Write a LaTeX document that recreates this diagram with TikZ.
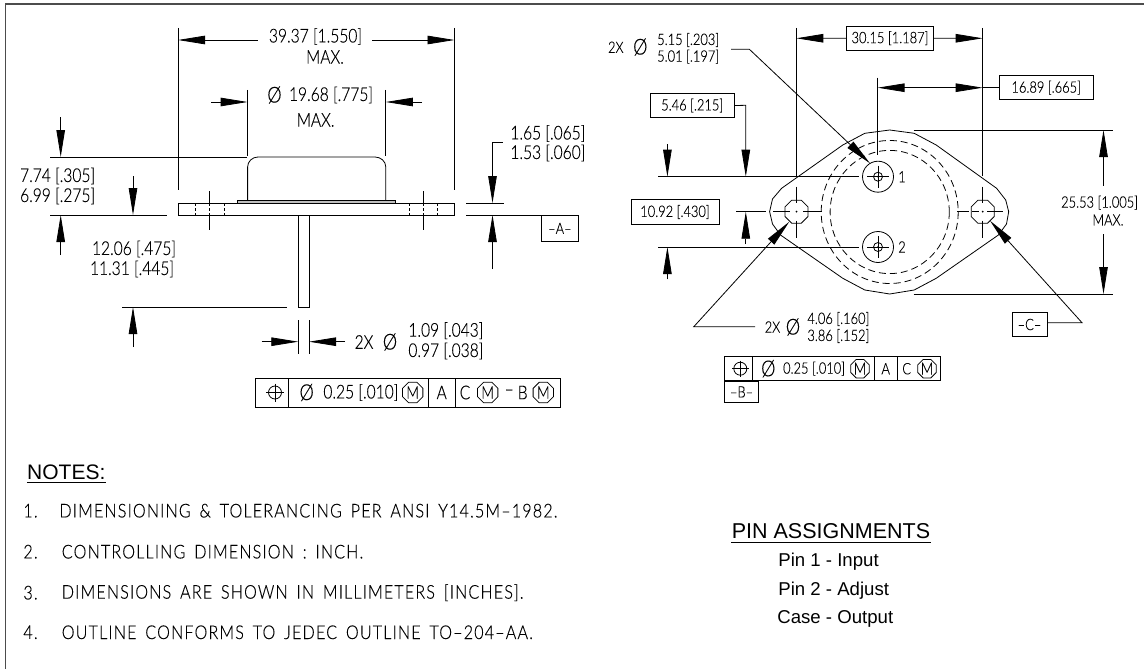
\documentclass[tikz,border=0pt]{standalone}
\usepackage{fontspec}
\setmainfont{Liberation Sans}
\newfontfamily\cadfont{Lato Light}[FakeStretch=0.82,FakeBold=0.2]
\newfontfamily\notefont{Lato Light}[FakeStretch=0.85,FakeBold=0.2,LetterSpace=6,WordSpace=1.6]
\usetikzlibrary{arrows.meta,positioning,shapes.geometric}

\begin{document}
\begin{tikzpicture}
    [x=1pt,y=-1pt,line width=0.8pt,
    dimarrow/.style={-{Triangle[length=27pt,width=8.5pt]}},
    dimboth/.style={{Triangle[length=27pt,width=8.5pt]}-{Triangle[length=27pt,width=8.5pt]}},
    dimleft/.style={font=\cadfont\fontsize{19}{19}\selectfont,inner sep=0pt},
    dimright/.style={font=\cadfont\fontsize{15.7}{16}\selectfont,inner sep=0pt},
    notetext/.style={font=\notefont\fontsize{19}{19}\selectfont,inner sep=0pt,anchor=west},
    plain/.style={font=\fontsize{21}{22}\selectfont,inner sep=0pt},
    pinline/.style={font=\fontsize{18.6}{19}\selectfont,inner sep=0pt,anchor=west},
    dimbox/.style={dimright,draw,rectangle,minimum height=24.4pt},
    datum/.style={dimright,draw,rectangle,minimum height=24pt,minimum width=35pt},
    dashedline/.style={dash pattern=on 7pt off 4pt},
    octagon/.style={draw,regular polygon,regular polygon sides=8,inner sep=0pt},
    markm/.style={octagon,minimum size=22pt,font=\cadfont\fontsize{17}{17}\selectfont},
    roundhole/.style={draw,circle,inner sep=0pt,minimum size=31pt},
    possym/.style={draw,circle,inner sep=0pt,minimum size=13pt},
    diasign/.style={font=\cadfont\fontsize{22}{22}\selectfont}]
    \useasboundingbox (0,0) rectangle (1144,669);
    \draw[line width=1.2pt,black!70] (5.5,669) -- (5.5,4) -- (1144,4);

    % free ends of the connectors
    \foreach \name/\x/\y in {
        a/178/40, b/257.5/40, c/454.5/40, d/372/40,
        e/247.6/102, f/211/102, g/385.8/102, h/422/102,
        i/60.7/157, j/60.7/117, k/60.7/215, l/60.7/255,
        m/133/215, n/133/176, o/133/307, p/133/347,
        q/492.5/203, r/492.5/142, s/502.5/142, t/492.5/215, u/492.5/269,
        v/298.3/341.7, w/261.7/341.7, x/309/341.7, y/345/341.7,
        aa/796.3/38.3, ab/982.7/38.3, ac/877.6/87.7, ad/982.7/87.7,
        ae/745.8/176.7, af/745.8/105.3, ag/667.4/176.7, ah/667.4/144,
        ai/667.4/247, aj/667.4/279.3, ak/745.8/211.7, al/745.8/244,
        am/1103.5/130, an/1103.5/185.7, ao/1103.5/294, ap/1103.5/234.3,
        aq/870/163.3, ar/749.4/49.3, as/731/49.3,
        at/789.3/221.7, au/693.8/326.7, av/755/326.7,
        aw/990/220.7, ax/1082/322.7} {
        \coordinate (\name) at (\x,\y);
    }

    % side view
    \draw (178,203) rectangle (454.5,215);
    \draw[fill=black!25] (237.5,200.5) rectangle (395.6,203);
    \draw (247.6,200.5) -- (247.6,167) to[out=90,in=180] (258,157) -- (375,157)
        to[out=0,in=90] (385.8,167) -- (385.8,200.5);
    \draw (298.3,215) -- (298.3,307) -- (309,307) -- (309,215);
    \foreach \x in {195.7,224,409.5,437.8} {
        \draw[dash pattern=on 3pt off 2pt] (\x,203) -- (\x,215);
    }
    \foreach \x in {209.8,423.6} {
        \draw (\x,191) -- (\x,203);
        \draw[dash pattern=on 3pt off 2pt] (\x,203) -- (\x,215);
        \draw (\x,215) -- (\x,230);
    }
    \foreach \x in {178,454.5} {
        \draw (\x,28) -- (\x,190);
    }
    \foreach \x in {247.6,385.8} {
        \draw (\x,90) -- (\x,156);
    }
    \foreach \x in {298.3,309} {
        \draw (\x,320) -- (\x,353.5);
    }
    \draw (50,157) -- (247,157);
    \draw (50,215) -- (166.5,215);
    \draw (122,307) -- (287,307);
    \draw (466,203) -- (504,203);
    \draw (466,215) -- (578,215);
    \foreach \from/\to in {b/a,d/c,f/e,h/g,j/i,l/k,n/m,p/o,u/t,w/v,y/x} {
        \draw[dimarrow] (\from) -- (\to);
    }
    \draw[dimarrow] (s) -- (r) -- (q);

    \node[dimleft] (overall) at (315.5,36.5) {39.37 [1.550]};
    \node[dimleft] (overallmax) at (325,57) {MAX.};
    \node[dimleft,diasign] (domedia) at (274.5,95) {Ø};
    \node[dimleft] (dome) at (331,95) {19.68 [.775]};
    \node[dimleft] (domemax) at (315.6,120) {MAX.};
    \node[dimleft] (high) at (57.6,176) {7.74 [.305]};
    \node[dimleft] (low) at (57.6,196) {6.99 [.275]};
    \node[dimleft] (pinhigh) at (134,249) {12.06 [.475]};
    \node[dimleft] (pinlow) at (132,269) {11.31 [.445]};
    \node[dimleft] (thick) [anchor=west] at (510,133.5) {1.65 [.065]};
    \node[dimleft] (thin) [anchor=west] at (510,153) {1.53 [.060]};
    \node[datum,anchor=north west,minimum width=37pt,minimum height=26pt] (dtmA) at (541,215) {–A–};
    \node[dimleft] (pintwo) at (364,342) {2X};
    \node[dimleft,diasign] (pindia) at (390,342) {Ø};
    \node[dimleft,anchor=west] (pinmax) at (408,330.7) {1.09 [.043]};
    \node[dimleft,anchor=west] (pinmin) at (408,351) {0.97 [.038]};

    % frame under the side view
    \draw (255.7,378.3) rectangle (560,407.7);
    \foreach \x in {288.3,428.3,455} {
        \draw (\x,378.3) -- (\x,407.7);
    }
    \node[possym] (posleft) at (275,392.5) {};
    \draw (266,392.5) -- (284,392.5) (275,383.5) -- (275,401.5);
    \node[dimleft,diasign] (tolleft) at (306.7,392.5) {Ø};
    \node[dimleft,anchor=west] (valleft) at (323,392.5) {0.25 [.010]};
    \node[markm] (ma) at (412.7,392.5) {M};
    \node[dimleft] (refa) at (441.7,392.5) {A};
    \node[dimleft] (refc) at (465,392.5) {C};
    \node[markm] (mb) at (487.7,392.5) {M};
    \node[dimleft] (refdash) at (509.3,392.5) {–};
    \node[dimleft] (refb) at (522.7,392.5) {B};
    \node[markm] (mc) at (543.3,392.5) {M};

    % top view
    \draw (889.7,130) -- (914.2,133.3) -- (936.2,145) -- (996.6,188.3) -- (1005.7,200)
        -- (1008.7,211.7) -- (1006.5,224) -- (998.4,235) -- (936.2,278.3) -- (914.2,290)
        -- (889.7,294) -- (864.8,290) -- (842.8,278.3) -- (780.5,235) -- (772.5,224)
        -- (769.6,211.7) -- (772.5,199) -- (781.6,188.3) -- (842.8,145) -- (864.8,133.3)
        -- cycle;
    \draw[dashedline] (889.7,212) ellipse (68.5 and 71.5);
    \draw[dashedline] (889.7,212) ellipse (59.6 and 61.6);
    \foreach \name/\y/\num in {holeone/176.7/1,holetwo/247/2} {
        \node[roundhole] (\name) at (878,\y) {};
        \draw (878,\y) circle (4.5);
        \fill (878,\y) circle (1);
        \draw (867,\y) -- (889,\y) (878,\y-11) -- (878,\y+11);
        \node[dimright] (\name num) at (902,\y) {\num};
    }
    \foreach \name/\x in {holea/796.5,holec/982.7} {
        \node[octagon,minimum size=25pt] (\name) at (\x,211.7) {};
        \fill (\x,211.7) circle (1);
        \draw (\x,186.5) -- (\x,203) (\x,220.5) -- (\x,238);
    }
    \foreach \s/\t in {736/766,773/790,803/822,957/969,972/979,987/1003} {
        \draw (\s,211.7) -- (\t,211.7);
    }
    \foreach \x in {796.3,982.7} {
        \draw (\x,28) -- (\x,176);
    }
    \draw (877.6,77.7) -- (877.6,155);
    \draw (658,176.7) -- (858.5,176.7);
    \draw (658,247) -- (858.5,247);
    \draw (913.5,130) -- (1112.6,130);
    \draw (913.5,294) -- (1112.6,294);

    \node[dimbox,minimum width=87pt] (wide) at (890,38.2) {30.15 [1.187]};
    \node[dimbox,minimum width=93.5pt] (half) at (1046.2,87.7) {16.89 [.665]};
    \node[dimbox,minimum width=84.4pt] (rise) at (692.2,105.5) {5.46 [.215]};
    \node[dimbox,minimum width=88pt] (span) at (675,212) {10.92 [.430]};
    \node[datum] (dtmC) at (1029.5,324.5) {–C–};
    \node[dimright] (bodyhigh) at (1099.6,202.7) {25.53 [1.005]};
    \node[dimright] (bodymax) at (1108,220) {MAX.};
    \node[dimright] (pintwox) at (615.8,47.3) {2X};
    \node[dimright,diasign] (pinholedia) at (640.3,47) {Ø};
    \node[dimright,anchor=west] (pinholemax) at (656.8,40) {5.15 [.203]};
    \node[dimright,anchor=west] (pinholemin) at (656.8,56.7) {5.01 [.197]};
    \node[dimright] (mounttwox) at (772.5,327) {2X};
    \node[dimright,diasign] (mountdia) at (793,327) {Ø};
    \node[dimright,anchor=west] (mountmax) at (807,319) {4.06 [.160]};
    \node[dimright,anchor=west] (mountmin) at (807,336) {3.86 [.152]};

    \draw[dimarrow] (wide.west) -- (aa);
    \draw[dimarrow] (wide.east) -- (ab);
    \draw (half.west) -- (ad);
    \draw[dimboth] (ac) -- (ad);
    \draw[dimarrow] (rise.east) -- (af) -- (ae);
    \draw[dimarrow] (ah) -- (ag);
    \draw[dimarrow] (aj) -- (ai);
    \draw[dimarrow] (al) -- (ak);
    \draw[dimarrow] (an) -- (am);
    \draw[dimarrow] (ap) -- (ao);
    \draw[dimarrow] (as) -- (ar) -- (aq);
    \draw[dimarrow] (av) -- (au) -- (at);
    \draw[dimarrow] (dtmC.east |- ax) -- (ax) -- (aw);

    % frame under the top view
    \draw (724,356) rectangle (940.3,380.7);
    \foreach \x in {752.7,874.3,897.3} {
        \draw (\x,356) -- (\x,380.7);
    }
    \node[possym] (posright) at (740.3,368.7) {};
    \draw (732,368.7) -- (748.6,368.7) (740.3,360.5) -- (740.3,377);
    \node[dimright,diasign] (tolright) at (768.3,368.7) {Ø};
    \node[dimright,anchor=west] (valright) at (782.7,368.7) {0.25 [.010]};
    \node[markm,minimum size=20pt] (md) at (860,368.7) {M};
    \node[dimright] (refaa) at (885.7,368.7) {A};
    \node[dimright] (refcc) at (906.7,368.7) {C};
    \node[markm,minimum size=20pt] (me) at (927,368.7) {M};
    \node[datum,anchor=north west,minimum width=34.3pt,minimum height=21.6pt] (dtmB) at (724,380.7) {–B–};

    % notes
    \node[plain,anchor=west] (notes) at (26.8,472) {NOTES:};
    \draw ([yshift=-2.5pt]notes.south west) -- ([yshift=-2.5pt]notes.south east);
    \foreach \num/\xx/\yy/\txt in {
        1./59/510.7/DIMENSIONING \& TOLERANCING PER ANSI Y14.5M–1982.,
        2./61.4/551.7/CONTROLLING DIMENSION : INCH.,
        3./61.4/592.7/DIMENSIONS ARE SHOWN IN MILLIMETERS [INCHES].,
        4./61.4/632.3/OUTLINE CONFORMS TO JEDEC OUTLINE TO–204–AA.} {
        \node[notetext] (n\num) at (23,\yy) {\num};
        \node[notetext] (t\num) at (\xx,\yy) {\txt};
    }

    % pins
    \node[plain,font=\fontsize{21.5}{22}\selectfont] (pins) at (831,531.5) {PIN ASSIGNMENTS};
    \draw ([yshift=-2.5pt]pins.south west) -- ([yshift=-2.5pt]pins.south east);
    \node[pinline] (pinone) at (778,561.7) {Pin 1 - Input};
    \node[pinline] (pintwoline) at (778,590.7) {Pin 2 - Adjust};
    \node[pinline] (pincase) at (777,619) {Case - Output};
\end{tikzpicture}
\end{document}
